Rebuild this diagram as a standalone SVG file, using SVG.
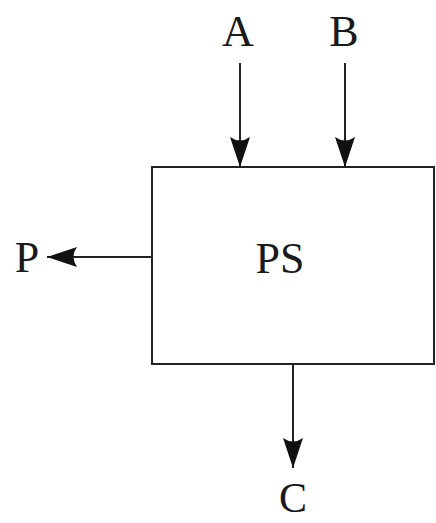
<svg xmlns="http://www.w3.org/2000/svg" width="436" height="523" viewBox="0 0 436 523">
<style>
.ln{stroke:#222;stroke-width:2;fill:none}
.lb{font-family:"Liberation Serif","DejaVu Serif",serif;font-size:44px;fill:#1a1a1a;text-anchor:middle}
</style>
<defs>
<marker id="ah" markerUnits="userSpaceOnUse" markerWidth="34" markerHeight="24" viewBox="-32 -12 34 24" refX="0" refY="0" orient="auto">
<path d="M0,0 L-30,-10 Q-23,0 -30,10 Z" fill="#111"/>
</marker>
</defs>
<rect width="436" height="523" fill="#fff"/>
<g id="PS">
<rect x="152" y="167" width="282" height="197" class="ln"/>
<text x="280" y="273" class="lb">PS</text>
</g>
<g id="A"><text x="238" y="46" class="lb">A</text></g>
<g id="B"><text x="344" y="46" class="lb">B</text></g>
<g id="P"><text x="27" y="272" class="lb">P</text></g>
<g id="C"><text x="293" y="512" class="lb" style="font-size:42px">C</text></g>
<g id="connectors">
<line x1="240" y1="63" x2="240" y2="167" class="ln" marker-end="url(#ah)"/>
<line x1="345" y1="63" x2="345" y2="167" class="ln" marker-end="url(#ah)"/>
<line x1="152" y1="257" x2="47" y2="257" class="ln" marker-end="url(#ah)"/>
<line x1="293" y1="364" x2="293" y2="468" class="ln" marker-end="url(#ah)"/>
</g>
</svg>
